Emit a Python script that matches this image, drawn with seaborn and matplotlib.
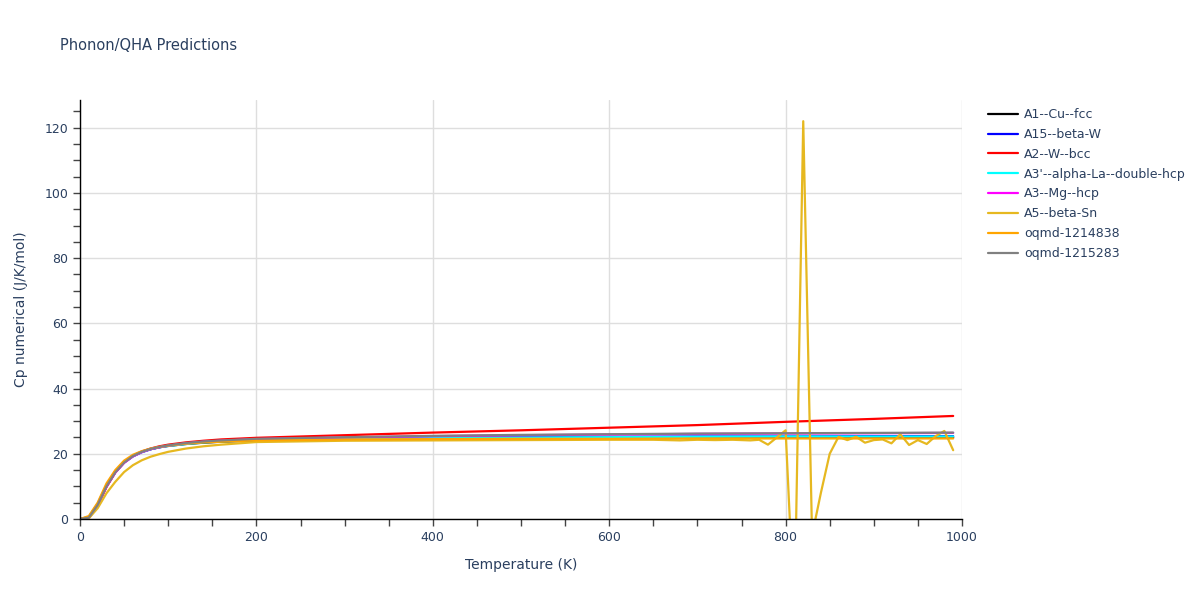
import numpy as np
import pandas as pd
import matplotlib
matplotlib.use("Agg")
import matplotlib.pyplot as plt
from matplotlib.ticker import MultipleLocator
import seaborn as sns

# temperatures (K) shared by the smooth curves
temps = [0, 10, 20, 30, 40, 50, 60, 70, 80, 90, 100, 120, 140, 160, 200,
         300, 400, 500, 600, 700, 800, 900, 990]

cp_a1_cu_fcc = [0, 0.6, 4.6, 10.3, 14.6, 17.5, 19.4, 20.6, 21.4, 22.0, 22.4, 23.0, 23.4, 23.7, 24.1,
                24.4, 24.6, 24.7, 24.8, 24.9, 24.9, 25.0, 25.0]
cp_a15_beta_w = [0, 0.5, 4.4, 10.0, 14.3, 17.3, 19.2, 20.5, 21.4, 22.0, 22.5, 23.1, 23.6, 23.9, 24.3,
                 24.7, 24.9, 25.1, 25.2, 25.3, 25.3, 25.4, 25.4]
cp_a2_w_bcc = [0, 0.3, 4.0, 9.8, 14.3, 17.4, 19.4, 20.7, 21.6, 22.3, 22.8, 23.5, 24.0, 24.4, 24.9,
               25.7, 26.5, 27.2, 28.0, 28.8, 29.8, 30.7, 31.6]
cp_a3p_la = [0, 0.5, 4.5, 10.1, 14.4, 17.4, 19.3, 20.5, 21.4, 22.0, 22.4, 23.0, 23.5, 23.8, 24.2,
             24.6, 24.8, 25.0, 25.1, 25.2, 25.3, 25.3, 25.3]
cp_a3_mg_hcp = [0, 0.4, 4.2, 9.9, 14.2, 17.2, 19.2, 20.5, 21.4, 22.0, 22.5, 23.2, 23.7, 24.0, 24.5,
                25.0, 25.4, 25.7, 25.9, 26.1, 26.2, 26.3, 26.4]
cp_oqmd_1214838 = [0, 0.9, 5.0, 10.9, 15.0, 17.9, 19.7, 20.8, 21.6, 22.1, 22.5, 23.1, 23.5, 23.7, 24.1,
                   24.4, 24.5, 24.6, 24.6, 24.7, 24.7, 24.7, 24.7]
cp_oqmd_1215283 = [0, 0.4, 4.3, 10.0, 14.3, 17.3, 19.3, 20.6, 21.5, 22.1, 22.6, 23.3, 23.8, 24.1, 24.6,
                   25.1, 25.5, 25.8, 26.0, 26.2, 26.3, 26.4, 26.5]

# A5--beta-Sn is noisy at high T, so it has its own temperature list
temps_a5 = [0, 10, 20, 30, 40, 50, 60, 70, 80, 90, 100, 120, 140, 160, 200,
            300, 400, 500, 600, 650, 680, 700, 720, 740, 760, 770, 780, 790, 800,
            810, 820, 830, 840, 850, 860, 870, 880, 890, 900, 910, 920, 930, 940,
            950, 960, 970, 980, 990]
cp_a5_beta_sn = [0, 0.2, 3.3, 7.9, 11.4, 14.4, 16.5, 18.0, 19.1, 19.9, 20.6, 21.6, 22.3, 22.8, 23.6,
                 24.0, 24.1, 24.2, 24.3, 24.3, 24.1, 24.3, 24.2, 24.3, 24.1, 24.3, 22.8, 25.0, 27.2,
                 -30.0, 122.0, -5.0, 8.0, 20.0, 25.2, 24.2, 25.2, 23.4, 24.2, 24.4, 23.2, 26.0, 22.7,
                 24.2, 23.0, 25.4, 27.0, 21.1]

series = [
    ("A1--Cu--fcc", temps, cp_a1_cu_fcc, "black"),
    ("A15--beta-W", temps, cp_a15_beta_w, "blue"),
    ("A2--W--bcc", temps, cp_a2_w_bcc, "red"),
    ("A3'--alpha-La--double-hcp", temps, cp_a3p_la, "cyan"),
    ("A3--Mg--hcp", temps, cp_a3_mg_hcp, "magenta"),
    ("A5--beta-Sn", temps_a5, cp_a5_beta_sn, "#e6b820"),
    ("oqmd-1214838", temps, cp_oqmd_1214838, "orange"),
    ("oqmd-1215283", temps, cp_oqmd_1215283, "grey"),
]

sns.set_theme(style="white")
plt.rcParams["font.family"] = ["DejaVu Sans"]
text_col = "#2a3f5f"

fig = plt.figure(figsize=(12, 6), dpi=100)
ax = fig.add_axes([80 / 1200, 81 / 600, 882 / 1200, 419 / 600])

for name, x, y, colour in series:
    df = pd.DataFrame({"T": x, "Cp": y})
    sns.lineplot(data=df, x="T", y="Cp", color=colour, label=name, linewidth=1.6, ax=ax,
                 estimator=None, sort=False)

ax.set_xlim(0, 1000)
ax.set_ylim(0, 128.5)
ax.xaxis.set_major_locator(MultipleLocator(200))
ax.xaxis.set_minor_locator(MultipleLocator(50))
ax.yaxis.set_major_locator(MultipleLocator(20))
ax.yaxis.set_minor_locator(MultipleLocator(5))
ax.tick_params(which="both", direction="out", length=5, width=1, color="#444444",
               bottom=True, left=True, labelsize=9, labelcolor=text_col)
ax.grid(True, which="major", color="#dedede", linewidth=1)
for side in ["top", "right"]:
    ax.spines[side].set_visible(False)
for side in ["left", "bottom"]:
    ax.spines[side].set_color("black")
    ax.spines[side].set_linewidth(1)

ax.set_xlabel("Temperature (K)", fontsize=10, color=text_col, labelpad=10)
ax.set_ylabel("Cp numerical (J/K/mol)", fontsize=10, color=text_col, labelpad=12)
fig.text(60 / 1200, 1 - 45 / 600, "Phonon/QHA Predictions", fontsize=10.5, color=text_col,
         ha="left", va="center")

ax.legend(loc="upper left", bbox_to_anchor=(983 / 1200, 1 - 103 / 600), bbox_transform=fig.transFigure,
          frameon=False, fontsize=9, handlelength=2.4, handletextpad=0.5, labelspacing=0.55,
          borderaxespad=0, labelcolor=text_col)

plt.savefig("out.png", dpi=100)
plt.close()
